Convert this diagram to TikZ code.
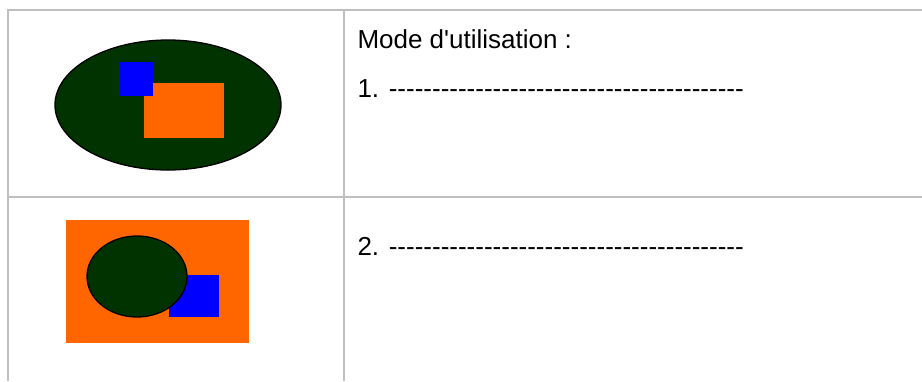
\documentclass[tikz,border=0pt]{standalone}
\usepackage{fontspec}
\setmainfont{Liberation Sans}[Ligatures=TeXOff]
\usetikzlibrary{shapes.geometric}
\definecolor{gridgray}{HTML}{BFBFBF}
\definecolor{dkgreen}{HTML}{003300}
\definecolor{myorange}{HTML}{FF6600}
\definecolor{myblue}{HTML}{0000FF}
\newcommand{\mydashes}{-{}-{}-{}-{}-{}-{}-{}-{}-{}-{}-{}-{}-{}-{}-{}-{}-{}-{}-{}-{}-{}-{}-{}-{}-{}-{}-{}-{}-{}-{}-{}-{}-{}-{}-{}-{}-{}-{}-{}-{}-{}}
\begin{document}
\begin{tikzpicture}[x=1pt,y=-1pt,
  gridline/.style={draw=gridgray,line width=2pt},
  greenshape/.style={fill=dkgreen,draw=black,line width=1.3pt},
  txt/.style={anchor=base west,inner sep=0pt,outer sep=0pt,font=\fontsize{26}{30}\selectfont}]
\useasboundingbox (0,0) rectangle (922,381);
\fill[white] (0,0) rectangle (922,381);
% table grid
\draw[gridline] (8,381) -- (8,10) -- (922,10);
\draw[gridline] (344,10) -- (344,381);
\draw[gridline] (8,197) -- (922,197);
% row 1 figure
\draw[greenshape] (168,105) ellipse [x radius=113, y radius=65];
\fill[myorange] (144,83) rectangle (224,138);
\fill[myblue] (119,62) rectangle (153,96);
% row 2 figure
\fill[myorange] (66,220) rectangle (249,343);
\fill[myblue] (169,275) rectangle (219,317);
\draw[greenshape] (137,276.5) ellipse [x radius=50, y radius=40.5];
% texts
\node[txt] (mode) at (357.5,48.5) {Mode d'utilisation :};
\node[txt] (step1) at (357.5,97) {1. \mydashes};
\node[txt] (step2) at (357.5,255) {2. \mydashes};
\end{tikzpicture}
\end{document}
